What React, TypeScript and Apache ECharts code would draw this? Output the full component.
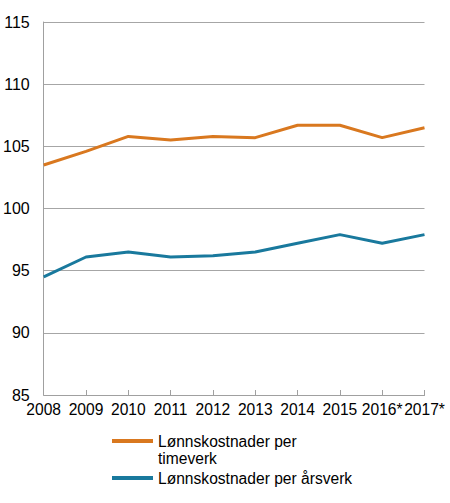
import React, { useEffect, useRef } from 'react';
import * as echarts from 'echarts';

const years = ['2008', '2009', '2010', '2011', '2012', '2013', '2014', '2015', '2016*', '2017*'];
const perTimeverk = [103.5, 104.6, 105.8, 105.5, 105.8, 105.7, 106.7, 106.7, 105.7, 106.5];
const perArsverk = [94.5, 96.1, 96.5, 96.1, 96.2, 96.5, 97.2, 97.9, 97.2, 97.9];

const nameTimeverk = 'Lønnskostnader per\ntimeverk';
const nameArsverk = 'Lønnskostnader per årsverk';

const App: React.FC = () => {
    const chartRef = useRef<HTMLDivElement>(null);

    useEffect(() => {
        document.body.style.margin = '0';
        const chartDom = chartRef.current!;
        const myChart = echarts.init(chartDom, undefined, { renderer: 'svg' });

        const font = "'Liberation Sans', Arial, sans-serif";

        const option: echarts.EChartsOption = {
            animation: false,
            textStyle: { fontFamily: font },
            grid: { left: 41.5, right: 25.5, top: 22, bottom: 108 },
            legend: {
                orient: 'vertical',
                left: 107,
                top: 410.5,
                itemWidth: 41,
                itemHeight: 4,
                itemGap: 3,
                icon: 'rect',
                // leading blank line keeps the icon level with the first text line
                formatter: (name: string) => (name === nameTimeverk ? '\n' + name : name),
                textStyle: { fontSize: 15.6, lineHeight: 17, color: '#000', fontFamily: font },
                data: [nameTimeverk, nameArsverk],
            },
            xAxis: {
                type: 'category',
                boundaryGap: false,
                data: years,
                axisLine: { lineStyle: { color: '#a0a0a0', width: 1 } },
                axisTick: { inside: true, length: 5, lineStyle: { color: '#a0a0a0' } },
                axisLabel: { color: '#000', fontSize: 15.6, margin: 6, interval: 0, fontFamily: font },
                splitLine: { show: false },
            },
            yAxis: {
                type: 'value',
                min: 85,
                max: 115,
                interval: 5,
                axisLine: { show: true, lineStyle: { color: '#a0a0a0', width: 1 } },
                axisTick: { show: false },
                axisLabel: { color: '#000', fontSize: 16, margin: 14, fontFamily: font },
                splitLine: { lineStyle: { color: '#a6a6a6', width: 1 } },
            },
            series: [
                {
                    name: nameTimeverk,
                    type: 'line',
                    data: perTimeverk,
                    symbol: 'none',
                    lineStyle: { color: '#d9781f', width: 3 },
                    itemStyle: { color: '#d9781f' },
                },
                {
                    name: nameArsverk,
                    type: 'line',
                    data: perArsverk,
                    symbol: 'none',
                    lineStyle: { color: '#19799d', width: 3 },
                    itemStyle: { color: '#19799d' },
                },
            ],
        };

        myChart.setOption(option);

        const resizeObserver = new ResizeObserver(() => {
            myChart.resize();
        });
        resizeObserver.observe(chartDom);

        return () => {
            resizeObserver.disconnect();
            myChart.dispose();
        };
    }, []);

    return <div ref={chartRef} style={{ width: 450, height: 503 }} />;
};

export default App;
